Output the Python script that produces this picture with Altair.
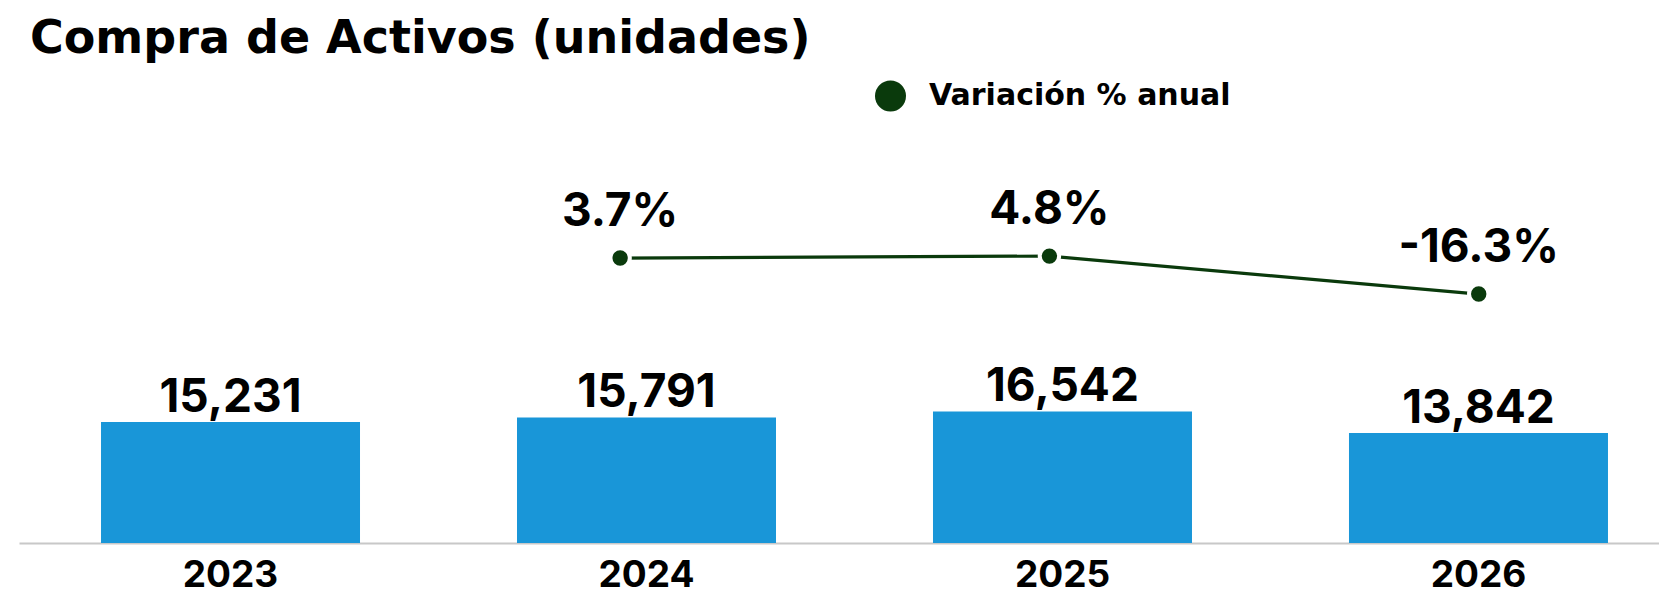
import altair as alt
import pandas as pd

# ---- data ----
years = ["2023", "2024", "2025", "2026"]
units = [15231, 15791, 16542, 13842]
unit_labels = ["15,231", "15,791", "16,542", "13,842"]
var_years = ["2024", "2025", "2026"]
var_pct = [3.7, 4.8, -16.3]
var_labels = ["3.7%", "4.8%", "-16.3%"]
series_name = "Variación % anual"

bars_df = pd.DataFrame({"year": years, "units": units, "label": unit_labels})
line_df = pd.DataFrame({
    "year": var_years,
    "pct": var_pct,
    "label": var_labels,
    "serie": [series_name] * len(var_years),
})

NUM_FONT = "Inter"
TXT_FONT = "DejaVu Sans"
BAR_COLOR = "#1996d8"
LINE_COLOR = "#0a3a0c"

x_bar = alt.X(
    "year:N",
    sort=years,
    scale=alt.Scale(paddingInner=0.3774, paddingOuter=0.1599, align=0.6165),
    axis=alt.Axis(
        title=None, labelAngle=0, labelFont=NUM_FONT, labelFontSize=37,
        labelFontWeight="bold", labelColor="#000000", labelPadding=14,
        ticks=False, tickSize=0, grid=False,
        domainColor="#c8c8c8", domainWidth=2,
    ),
)
y_bar = alt.Y("units:Q", scale=alt.Scale(domain=[0, 52075], nice=False, zero=True), axis=None)

bars = alt.Chart(bars_df).mark_bar(color=BAR_COLOR).encode(x=x_bar, y=y_bar)
bar_text = alt.Chart(bars_df).mark_text(
    baseline="alphabetic", dy=-10, font=NUM_FONT, fontSize=46, fontWeight="bold", color="#000000"
).encode(x=x_bar, y=y_bar, text="label:N")

x_line = alt.X(
    "year:N",
    sort=years,
    scale=alt.Scale(type="point", domain=years, padding=0.4101, align=0.488),
    axis=None,
)
y_line = alt.Y("pct:Q", scale=alt.Scale(domain=[-154.6, 75.4], nice=False, zero=False), axis=None)

line = alt.Chart(line_df).mark_line(color=LINE_COLOR, strokeWidth=3.2).encode(x=x_line, y=y_line)
points = alt.Chart(line_df).mark_circle(
    size=376, opacity=1, stroke="white", strokeWidth=4
).encode(
    x=x_line,
    y=y_line,
    color=alt.Color(
        "serie:N",
        scale=alt.Scale(domain=[series_name], range=[LINE_COLOR]),
        legend=alt.Legend(
            title=None, orient="none", legendX=856, legendY=-48.5, padding=0,
            symbolType="circle", symbolSize=961, symbolStrokeWidth=0, symbolOpacity=1,
            labelFont=TXT_FONT, labelFontSize=30, labelFontWeight="bold",
            labelColor="#000000", labelOffset=23, labelLimit=1000,
        ),
    ),
)
pct_text = alt.Chart(line_df).mark_text(
    baseline="alphabetic", dy=-32, font=NUM_FONT, fontSize=46, fontWeight="bold", color="#000000"
).encode(x=x_line, y=y_line, text="label:N")

bar_layer = alt.layer(bars, bar_text)
line_layer = alt.layer(line, points, pct_text)

chart = alt.layer(bar_layer, line_layer).resolve_scale(
    x="independent", y="independent"
).properties(
    width=1651,
    height=414,
    autosize=alt.AutoSizeParams(type="fit-x", contains="padding"),
    padding={"left": 11, "right": 0, "top": 8, "bottom": 0},
    title=alt.TitleParams(
        "Compra de Activos (unidades)", anchor="start", dx=11, offset=66,
        font=TXT_FONT, fontSize=46, fontWeight="bold", color="#000000",
    ),
).configure(background="white").configure_view(stroke=None)

chart.save("out.html", embed_options={"renderer": "svg", "actions": False})
